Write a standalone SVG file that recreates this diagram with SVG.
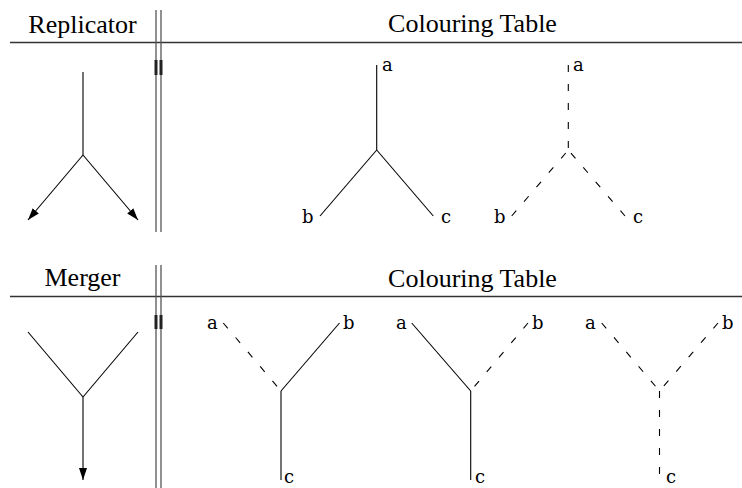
<svg xmlns="http://www.w3.org/2000/svg" width="742" height="488" viewBox="0 0 742 488">
<style>
.hdr{font-family:"Liberation Serif","Times New Roman",serif;font-size:26px;fill:#000;text-anchor:middle}
.lbl{font-family:"DejaVu Serif","Liberation Serif",serif;font-size:18px;fill:#000}
.rule{stroke:#333;stroke-width:1.3;fill:none}
.sep{stroke:#555;stroke-width:1.3;fill:none}
.thick{stroke:#222;stroke-width:3;fill:none}
.s{stroke:#000;stroke-width:1.1;fill:none}
.d{stroke:#000;stroke-width:1.1;fill:none;stroke-dasharray:7 12}
</style>
<defs>
<marker id="ah" markerWidth="12" markerHeight="8" refX="12" refY="4" orient="auto" markerUnits="userSpaceOnUse">
<path d="M0,0 L12,4 L0,8 z" fill="#000"/>
</marker>
</defs>
<rect width="742" height="488" fill="#fff"/>

<g id="table-frame">
<line class="rule" x1="10" y1="42.5" x2="742" y2="42.5"/>
<line class="rule" x1="10" y1="296.5" x2="742" y2="296.5"/>
<line class="sep" x1="156" y1="10" x2="156" y2="232"/>
<line class="sep" x1="161" y1="10" x2="161" y2="232"/>
<line class="thick" x1="156" y1="60" x2="156" y2="75"/>
<line class="thick" x1="161" y1="60" x2="161" y2="75"/>
<line class="sep" x1="156" y1="265" x2="156" y2="488"/>
<line class="sep" x1="161" y1="265" x2="161" y2="488"/>
<line class="thick" x1="156" y1="315" x2="156" y2="329"/>
<line class="thick" x1="161" y1="315" x2="161" y2="329"/>
</g>

<g id="headers">
<text class="hdr" x="82.5" y="33">Replicator</text>
<text class="hdr" x="472.5" y="32">Colouring Table</text>
<text class="hdr" x="82.5" y="286">Merger</text>
<text class="hdr" x="472.5" y="287">Colouring Table</text>
</g>

<g id="replicator">
<line class="s" x1="83" y1="72" x2="83" y2="155"/>
<line class="s" x1="83" y1="155" x2="28" y2="220" marker-end="url(#ah)"/>
<line class="s" x1="83" y1="155" x2="138" y2="220" marker-end="url(#ah)"/>
</g>

<g id="merger">
<line class="s" x1="28" y1="332" x2="83" y2="397"/>
<line class="s" x1="138" y1="332" x2="83" y2="397"/>
<line class="s" x1="83" y1="397" x2="83" y2="480" marker-end="url(#ah)"/>
</g>

<g id="rep-colour-1">
<line class="s" x1="376.7" y1="65" x2="376.7" y2="150"/>
<line class="s" x1="376.7" y1="150" x2="320" y2="216"/>
<line class="s" x1="376.7" y1="150" x2="433.3" y2="216"/>
<text class="lbl" x="382" y="71">a</text>
<text class="lbl" x="302" y="223">b</text>
<text class="lbl" x="441" y="223">c</text>
</g>

<g id="rep-colour-2">
<line class="d" x1="568.3" y1="65" x2="568.3" y2="150"/>
<line class="d" x1="511.7" y1="216" x2="568.3" y2="150"/>
<line class="d" x1="625" y1="216" x2="568.3" y2="150"/>
<text class="lbl" x="573" y="71">a</text>
<text class="lbl" x="494" y="223">b</text>
<text class="lbl" x="633" y="223">c</text>
</g>

<g id="mrg-colour-1">
<line class="d" x1="223.3" y1="323" x2="281" y2="391"/>
<line class="s" x1="339.5" y1="323" x2="281" y2="391"/>
<line class="s" x1="281" y1="391" x2="281" y2="480"/>
<text class="lbl" x="207" y="329">a</text>
<text class="lbl" x="343" y="329">b</text>
<text class="lbl" x="284" y="483">c</text>
</g>

<g id="mrg-colour-2">
<line class="s" x1="411.7" y1="323" x2="470.7" y2="391"/>
<line class="d" x1="528" y1="323" x2="470.7" y2="391"/>
<line class="s" x1="470.7" y1="391" x2="470.7" y2="480"/>
<text class="lbl" x="396" y="329">a</text>
<text class="lbl" x="532" y="329">b</text>
<text class="lbl" x="475" y="483">c</text>
</g>

<g id="mrg-colour-3">
<line class="d" x1="601.7" y1="323" x2="659.5" y2="391"/>
<line class="d" x1="718" y1="323" x2="659.5" y2="391"/>
<line class="d" x1="659.5" y1="391" x2="659.5" y2="480"/>
<text class="lbl" x="585" y="329">a</text>
<text class="lbl" x="722" y="329">b</text>
<text class="lbl" x="666" y="483">c</text>
</g>
</svg>
